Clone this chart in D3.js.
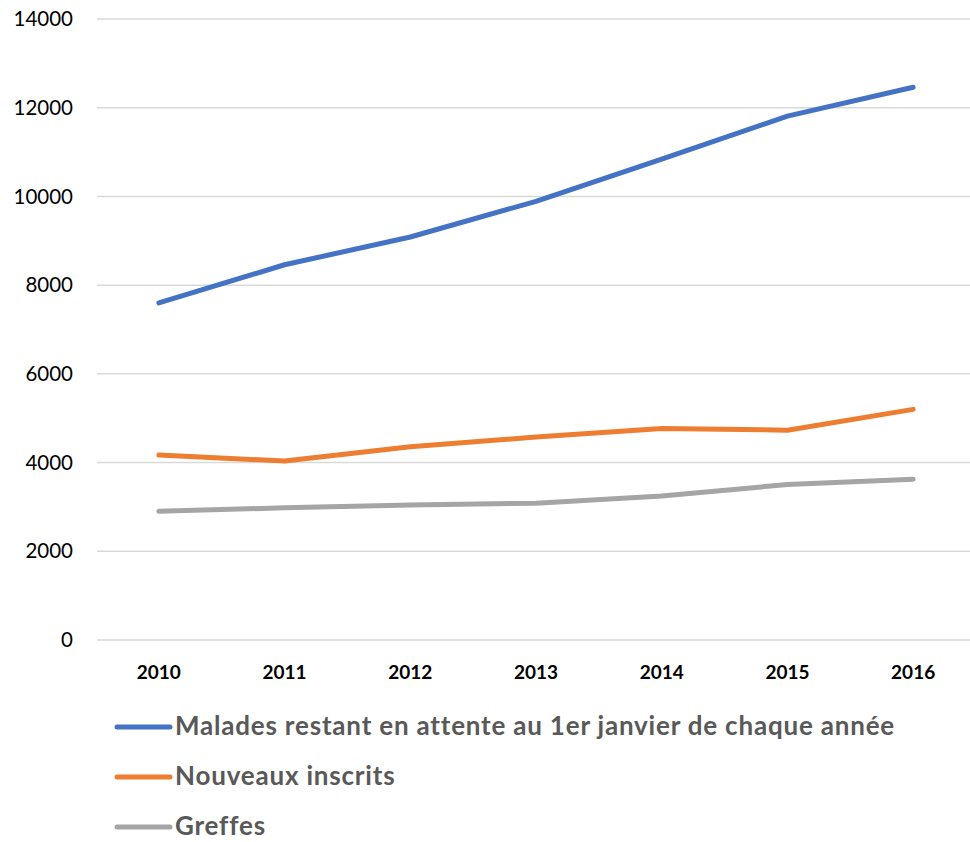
<!DOCTYPE html>
<html>
<head>
<meta charset="utf-8">
<script src="https://cdn.jsdelivr.net/npm/d3@7"></script>
<style>
    body {margin: 0; background: #fff;}
    svg {display: block;}
</style>
</head>
<body>
<svg id="chart" width="970" height="842"></svg>
<script>
const years = ["2010", "2011", "2012", "2013", "2014", "2015", "2016"];
const yTicks = [0, 2000, 4000, 6000, 8000, 10000, 12000, 14000];
const malades = [7600, 8460, 9085, 9890, 10840, 11810, 12460];
const inscrits = [4170, 4035, 4355, 4575, 4770, 4730, 5200];
const greffes = [2900, 2980, 3045, 3085, 3245, 3505, 3625];
const seriesNames = ["Malades restant en attente au 1er janvier de chaque année", "Nouveaux inscrits", "Greffes"];
const seriesColors = ["#4472C4", "#ED7D31", "#A5A5A5"];

const series = [malades, inscrits, greffes].map((values, i) => ({
    name: seriesNames[i], color: seriesColors[i], values
}));

const svg = d3.select("#chart");
const font = "Lato, 'Open Sans', sans-serif";

let scale_x = d3.scaleBand()
    .domain(years)
    .range([96, 976]);
let scale_y = d3.scaleLinear()
    .domain([0, 14000])
    .range([640, 19]);

// grid lines
svg.append("g")
    .selectAll("line")
    .data(yTicks)
    .join("line")
    .attr("x1", 97)
    .attr("x2", 970)
    .attr("y1", d => scale_y(d))
    .attr("y2", d => scale_y(d))
    .attr("stroke", "#d9d9d9")
    .attr("stroke-width", 1.5);

// y labels
svg.append("g")
    .selectAll("text")
    .data(yTicks)
    .join("text")
    .text(d => d)
    .attr("x", 73)
    .attr("y", d => scale_y(d))
    .attr("dy", "0.35em")
    .attr("text-anchor", "end")
    .style("font-family", font)
    .style("font-size", "20.5px")
    .attr("fill", "#000");

// x labels
svg.append("g")
    .selectAll("text")
    .data(years)
    .join("text")
    .text(d => d)
    .attr("x", d => scale_x(d) + scale_x.bandwidth() / 2)
    .attr("y", 679)
    .attr("text-anchor", "middle")
    .style("font-family", font)
    .style("font-size", "19px")
    .style("font-weight", "bold")
    .attr("fill", "#000");

const line_generator = d3.line()
    .x((d, i) => scale_x(years[i]) + scale_x.bandwidth() / 2)
    .y(d => scale_y(d));

svg.append("g")
    .selectAll("path")
    .data(series)
    .join("path")
    .attr("d", d => line_generator(d.values))
    .attr("fill", "none")
    .attr("stroke", d => d.color)
    .attr("stroke-width", 5)
    .attr("stroke-linecap", "round")
    .attr("stroke-linejoin", "round");

// legend
const legend = svg.append("g")
    .selectAll("g")
    .data(series)
    .join("g")
    .attr("transform", (d, i) => `translate(0, ${727 + i * 50})`);
legend.append("line")
    .attr("x1", 117)
    .attr("x2", 170)
    .attr("stroke", d => d.color)
    .attr("stroke-width", 5)
    .attr("stroke-linecap", "round");
legend.append("text")
    .text(d => d.name)
    .attr("x", 175)
    .attr("y", 8)
    .style("font-family", font)
    .style("font-size", "26px")
    .style("letter-spacing", "0.8px")
    .style("font-weight", "bold")
    .attr("fill", "#595959");
</script>
</body>
</html>
